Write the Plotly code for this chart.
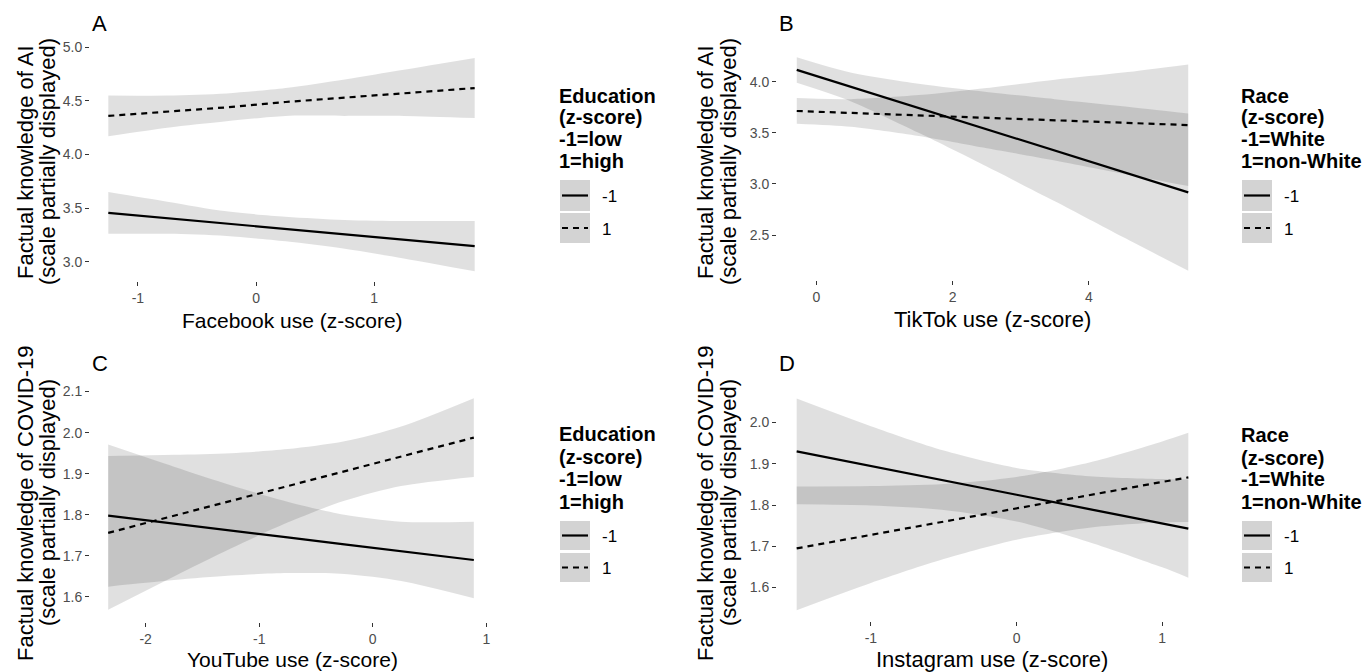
import plotly.graph_objects as go

W, H = 1364, 672
FONT = "Liberation Sans, Arial, sans-serif"

# ---------------- data ----------------
# Panel A: Facebook use x Education -> knowledge of AI
fb_x = [-1.25, -0.75, -0.25, 0.25, 0.75, 1.25, 1.85]
fb_low_fit = [3.456, 3.406, 3.356, 3.306, 3.256, 3.206, 3.145]
fb_low_hi = [3.65, 3.56, 3.47, 3.42, 3.39, 3.38, 3.38]
fb_low_lo = [3.26, 3.26, 3.24, 3.19, 3.12, 3.03, 2.91]
fb_high_fit = [4.36, 4.40, 4.44, 4.49, 4.53, 4.57, 4.62]
fb_high_hi = [4.55, 4.55, 4.57, 4.62, 4.70, 4.79, 4.90]
fb_high_lo = [4.17, 4.25, 4.31, 4.36, 4.36, 4.36, 4.34]

# Panel B: TikTok use x Race -> knowledge of AI
tt_x = [-0.29, 0.5, 1.5, 2.5, 3.5, 4.5, 5.46]
tt_white_fit = [4.116, 3.951, 3.743, 3.535, 3.327, 3.118, 2.918]
tt_white_hi = [4.24, 4.09, 3.98, 3.90, 3.83, 3.76, 3.69]
tt_white_lo = [3.99, 3.81, 3.50, 3.17, 2.83, 2.48, 2.15]
tt_nonwhite_fit = [3.714, 3.695, 3.671, 3.647, 3.623, 3.599, 3.576]
tt_nonwhite_hi = [3.84, 3.83, 3.87, 3.94, 4.02, 4.09, 4.17]
tt_nonwhite_lo = [3.59, 3.56, 3.47, 3.35, 3.23, 3.10, 2.98]

# Panel C: YouTube use x Education -> knowledge of COVID-19
yt_x = [-2.33, -1.75, -1.25, -0.75, -0.25, 0.25, 0.89]
yt_low_fit = [1.798, 1.779, 1.762, 1.745, 1.728, 1.711, 1.690]
yt_low_hi = [1.971, 1.917, 1.872, 1.832, 1.800, 1.783, 1.783]
yt_low_lo = [1.625, 1.641, 1.652, 1.658, 1.656, 1.639, 1.597]
yt_high_fit = [1.756, 1.798, 1.834, 1.870, 1.906, 1.942, 1.988]
yt_high_hi = [1.943, 1.946, 1.950, 1.960, 1.979, 2.015, 2.084]
yt_high_lo = [1.569, 1.650, 1.718, 1.781, 1.834, 1.870, 1.892]

# Panel D: Instagram use x Race -> knowledge of COVID-19
ig_x = [-1.51, -1.0, -0.5, 0.0, 0.5, 1.0, 1.18]
ig_white_fit = [1.930, 1.895, 1.860, 1.825, 1.790, 1.756, 1.743]
ig_white_hi = [2.058, 1.991, 1.932, 1.890, 1.870, 1.863, 1.862]
ig_white_lo = [1.802, 1.799, 1.788, 1.760, 1.710, 1.649, 1.624]
ig_nonwhite_fit = [1.695, 1.728, 1.760, 1.792, 1.824, 1.856, 1.867]
ig_nonwhite_hi = [1.845, 1.846, 1.851, 1.868, 1.903, 1.954, 1.975]
ig_nonwhite_lo = [1.545, 1.611, 1.669, 1.716, 1.745, 1.758, 1.759]

# tick labels
a_xticks = [-1, 0, 1]
a_yticks = [3.0, 3.5, 4.0, 4.5, 5.0]
b_xticks = [0, 2, 4]
b_yticks = [2.5, 3.0, 3.5, 4.0]
c_xticks = [-2, -1, 0, 1]
c_yticks = [1.6, 1.7, 1.8, 1.9, 2.0, 2.1]
d_xticks = [-1, 0, 1]
d_yticks = [1.6, 1.7, 1.8, 1.9, 2.0]

# text
panel_letters = ["A", "B", "C", "D"]
x_titles = ["Facebook use (z-score)", "TikTok use (z-score)",
            "YouTube use (z-score)", "Instagram use (z-score)"]
y_titles_ai = ["Factual knowledge of AI", "(scale partially displayed)"]
y_titles_cv = ["Factual knowledge of COVID-19", "(scale partially displayed)"]
edu_legend_title = ["Education", "(z-score)", "-1=low", "1=high"]
race_legend_title = ["Race", "(z-score)", "-1=White", "1=non-White"]
legend_labels = ["-1", "1"]

# ---------------- helpers ----------------
def px(x):
    return x / W


def py(y):
    return 1 - y / H


BAND = "rgba(0,0,0,0.12)"
DASH = "6px,5px"
LW = 2.2

fig = go.Figure()


def add_group(xs, fit, hi, lo, dash, xa, ya):
    fig.add_trace(go.Scatter(
        x=xs, y=lo, mode="lines", line=dict(width=0, shape="spline", smoothing=0.8),
        hoverinfo="skip", showlegend=False, xaxis=xa, yaxis=ya))
    fig.add_trace(go.Scatter(
        x=xs, y=hi, mode="lines", line=dict(width=0, shape="spline", smoothing=0.8),
        fill="tonexty", fillcolor=BAND,
        hoverinfo="skip", showlegend=False, xaxis=xa, yaxis=ya))
    return dict(x=xs, y=fit, dash=dash, xa=xa, ya=ya)


def add_line(g):
    fig.add_trace(go.Scatter(
        x=g["x"], y=g["y"], mode="lines",
        line=dict(color="black", width=LW, dash=g["dash"]),
        showlegend=False, xaxis=g["xa"], yaxis=g["ya"]))


panels = [
    ("x", "y", fb_x, (fb_low_fit, fb_low_hi, fb_low_lo), (fb_high_fit, fb_high_hi, fb_high_lo)),
    ("x2", "y2", tt_x, (tt_white_fit, tt_white_hi, tt_white_lo), (tt_nonwhite_fit, tt_nonwhite_hi, tt_nonwhite_lo)),
    ("x3", "y3", yt_x, (yt_low_fit, yt_low_hi, yt_low_lo), (yt_high_fit, yt_high_hi, yt_high_lo)),
    ("x4", "y4", ig_x, (ig_white_fit, ig_white_hi, ig_white_lo), (ig_nonwhite_fit, ig_nonwhite_hi, ig_nonwhite_lo)),
]
for xa, ya, xs, g1, g2 in panels:
    l1 = add_group(xs, *g1, "solid", xa, ya)
    l2 = add_group(xs, *g2, DASH, xa, ya)
    add_line(l1)
    add_line(l2)

# ---------------- axes ----------------
boxes = {  # pixel boxes: x0, x1, ytop, ybottom
    1: (90, 493, 47, 281),
    2: (777, 1208, 46, 280),
    3: (90, 492, 385, 622),
    4: (777, 1208, 387, 621),
}
ranges = {
    1: ([-1.405, 2.005], [2.82, 5.003]),
    2: ([-0.58, 5.75], [2.06, 4.35]),
    3: ([-2.49, 1.05], [1.539, 2.116]),
    4: ([-1.645, 1.315], [1.519, 2.086]),
}
ticks = {
    1: (a_xticks, a_yticks),
    2: (b_xticks, b_yticks),
    3: (c_xticks, c_yticks),
    4: (d_xticks, d_yticks),
}

common = dict(showgrid=False, zeroline=False, showline=False, ticks="outside",
              ticklen=4, tickwidth=1, tickcolor="#333333", automargin=False,
              tickfont=dict(family=FONT, size=14, color="#4D4D4D"))
layout_axes = {}
for i in range(1, 5):
    x0, x1, yt, yb = boxes[i]
    xr, yr = ranges[i]
    xt, ytk = ticks[i]
    sfx = "" if i == 1 else str(i)
    layout_axes["xaxis" + sfx] = dict(
        domain=[px(x0), px(x1)], range=xr, anchor="y" + sfx,
        tickvals=xt, ticktext=[f"{v:g}" for v in xt], **common)
    layout_axes["yaxis" + sfx] = dict(
        domain=[py(yb), py(yt)], range=yr, anchor="x" + sfx,
        tickvals=ytk, ticktext=[f"{v:.1f}" for v in ytk], **common)

annotations = []
shapes = []


def text(x, y, s, size, bold=False, xanchor="center", angle=0, color="black"):
    annotations.append(dict(
        x=px(x), y=py(y), xref="paper", yref="paper", text=f"<b>{s}</b>" if bold else s,
        showarrow=False, xanchor=xanchor, yanchor="middle", textangle=angle,
        font=dict(family=FONT, size=size, color=color)))


# panel letters
letter_pos = [(90, 24), (777, 24), (90, 363), (777, 363)]
for (lx, ly), s in zip(letter_pos, panel_letters):
    text(lx, ly, s, 22, xanchor="left")

# x titles
xt_pos = [(292, 320, 21), (992, 319, 22), (292, 659, 21), (992, 659, 22)]
for (tx, ty, sz), s in zip(xt_pos, x_titles):
    text(tx, ty, s, sz)

# y titles
yt_specs = [((25, 47), 162, y_titles_ai), ((705, 728), 162, y_titles_ai),
            ((25, 47), 503, y_titles_cv), ((705, 728), 503, y_titles_cv)]
for (xa1, xa2), yc, lines in yt_specs:
    text(xa1, yc, lines[0], 22, angle=-90)
    text(xa2, yc, lines[1], 22, angle=-90)

# legends
leg_specs = [
    (557, [96, 117, 139, 161], [(180, 211), (213, 243)], edu_legend_title),
    (1239, [96, 117, 139, 161], [(180, 211), (213, 243)], race_legend_title),
    (557, [434, 457, 479, 502], [(521, 550), (553, 582)], edu_legend_title),
    (1239, [435, 458, 479, 502], [(521, 550), (553, 582)], race_legend_title),
]
for lx, tys, keys, title in leg_specs:
    for ty, s in zip(tys, title):
        text(lx, ty, s, 20, bold=True, xanchor="left")
    kx0 = lx + 3
    kx1 = kx0 + 30
    for (ky0, ky1), lab, dsh in zip(keys, legend_labels, ["solid", DASH]):
        shapes.append(dict(type="rect", xref="paper", yref="paper",
                           x0=px(kx0), x1=px(kx1), y0=py(ky1), y1=py(ky0),
                           fillcolor="#D3D3D3", line=dict(width=0), layer="below"))
        ym = (ky0 + ky1) / 2
        shapes.append(dict(type="line", xref="paper", yref="paper",
                           x0=px(kx0 + 2), x1=px(kx1 - 2), y0=py(ym), y1=py(ym),
                           line=dict(color="black", width=LW, dash=dsh)))
        text(kx1 + 10, ym + 1, lab, 17, xanchor="left")

fig.update_layout(
    template="none",
    width=W, height=H, margin=dict(l=0, r=0, t=0, b=0, pad=0, autoexpand=False),
    paper_bgcolor="white", plot_bgcolor="white",
    showlegend=False, annotations=annotations, shapes=shapes,
    **layout_axes)

fig.write_html(
    "out.html",
    config={"displayModeBar": False},
    post_script=(
        "document.documentElement.style.margin='0';"
        "document.body.style.margin='0';document.body.style.overflow='hidden';"
        "var d=document.getElementById('{plot_id}');"
        "d.style.position='fixed';d.style.top='0px';d.style.left='0px';"
    ),
)
